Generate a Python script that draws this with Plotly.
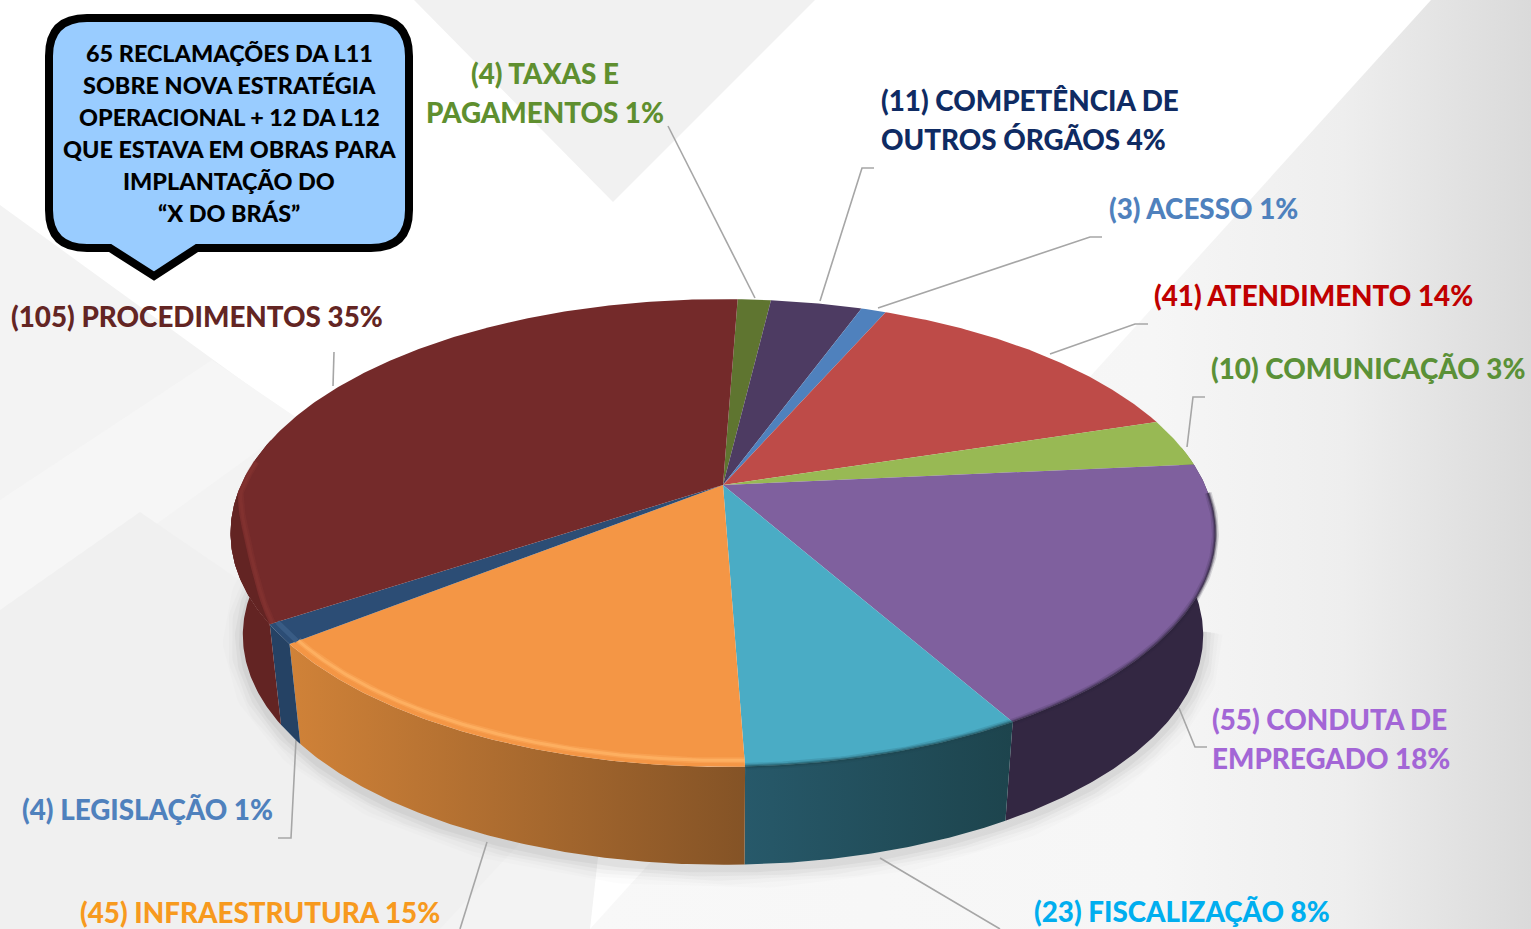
import numpy as np
import plotly.graph_objects as go

CATEGORIES = [["TAXAS E", "PAGAMENTOS"], ["COMPETÊNCIA DE", "OUTROS ÓRGÃOS"], ["ACESSO"], ["ATENDIMENTO"], ["COMUNICAÇÃO"],
              ["CONDUTA DE", "EMPREGADO"], ["FISCALIZAÇÃO"], ["INFRAESTRUTURA"], ["LEGISLAÇÃO"], ["PROCEDIMENTOS"]]
VALUES = [4, 11, 3, 41, 10, 55, 23, 45, 4, 105]
PERCENTS = [1, 4, 1, 14, 3, 18, 8, 15, 1, 35]
TOP_COLORS = ["#5F7530", "#4D3B62", "#4F81BD", "#BE4B48", "#98B954", "#7F609E", "#4AACC5", "#F49645", "#2C4D75", "#742A2A"]
SIDE_LEFT = ["#4c5e26", "#3e2f4f", "#3f6797", "#983c3a", "#7a9443", "#332742", "#27596A", "#D08238", "#254264", "#632423"]
SIDE_RIGHT = ["#4c5e26", "#3e2f4f", "#3f6797", "#983c3a", "#7a9443", "#332742", "#1D444D", "#845326", "#254264", "#632423"]
TEXT_COLORS = ["#5F8F2F", "#0F2B63", "#4F81BD", "#C00000", "#5B9137", "#A366D6", "#00AEEF", "#F79A1E", "#4F81BD", "#632523"]
LABEL_X = [545, 879, 1107, 1152, 1209, 1210, 1032, 78, 20, 9]
LABEL_Y = [73, 100, 208, 295, 368, 719, 911, 912, 809, 316]
LABEL_ANCHOR = ["center", "left", "left", "left", "left", "left", "left", "left", "left", "left"]
LEADERS = [[(668, 126), (755, 298)], [(874, 168), (862, 168), (820, 301)], [(1102, 237), (1090, 237), (878, 308)],
           [(1148, 324), (1135, 324), (1050, 354)], [(1205, 397), (1193, 397), (1187, 447)],
           [(1207, 747), (1195, 747), (1179, 708)], [(880, 858), (1000, 929)], [(487, 842), (460, 929)],
           [(296, 740), (291, 838), (278, 838)], [(334, 352), (333, 386)]]
NOTE = ["65 RECLAMAÇÕES DA L11", "SOBRE NOVA ESTRATÉGIA", "OPERACIONAL + 12 DA L12", "QUE ESTAVA EM OBRAS PARA",
        "IMPLANTAÇÃO DO", "“X DO BRÁS”"]
START_DEG = 2.1
FONT = "Lato"


def project(theta_deg, r=1.0, x0=723.0, y0=485.0, b=482.0, a=224.0, p=0.205):
    t = np.radians(theta_deg)
    u, v = r * np.sin(t), -r * np.cos(t)
    w = 1 - p * v
    return x0 + b * u / w, y0 + a * v / w


def top(theta, r=1.0):
    return project(theta, r)


def bottom(theta):
    return project(theta, 1.0, 723.0, 588.0, 470.0, 220.0)


def arc(a0, a1):
    return np.linspace(a0, a1, max(int(abs(a1 - a0) * 2), 3))


fig = go.Figure()


def poly(xs, ys, color=None, **kw):
    fig.add_trace(go.Scatter(x=list(xs), y=list(ys), mode="lines", fill="toself", fillcolor=color,
                             line=dict(width=0), hoverinfo="skip", showlegend=False, **kw))


def stroke(xs, ys, width, color):
    fig.add_trace(go.Scatter(x=xs, y=ys, mode="lines", line=dict(width=width, color=color),
                             hoverinfo="skip", showlegend=False))


# background
poly([414, 815, 613], [0, 0, 202], "#f1f1f1")
poly([1431, 1531, 1531, 590], [0, 0, 929, 929],
     fillgradient=dict(type="horizontal", colorscale=[[0, "#f8f8f8"], [0.6, "#f6f6f6"], [0.8, "#eeeeee"], [1, "#dadada"]]))
poly([0, 255, 620, 590, 0], [205, 390, 660, 929, 929], "#f3f3f3")
poly([0, 212, 300, 100, 0], [500, 360, 420, 565, 640], "#f6f6f6")
poly([0, 140, 560, 440, 0], [610, 512, 800, 929, 929], "#f0f0f0")

# soft shadow below the drum
th = arc(100, 275)
sx, sy = bottom(th)
for w, alpha in [(40, .012), (32, .016), (24, .022), (16, .03), (8, .04)]:
    stroke(sx, sy + 4, w, f"rgba(0,0,0,{alpha})")

# leader lines
for pts in LEADERS:
    stroke([q[0] for q in pts], [q[1] for q in pts], 1.6, "#a6a6a6")

edges = START_DEG + np.concatenate([[0], np.cumsum(VALUES)]) * 360.0 / sum(VALUES)
# side wall
for i in range(len(VALUES)):
    a0, a1 = max(edges[i], 80), min(edges[i + 1], 282)
    if a1 <= a0:
        continue
    th = arc(a0, a1)
    tx, ty = top(th)
    bx, by = bottom(th)
    poly(np.r_[tx, bx[::-1]], np.r_[ty, by[::-1]],
         fillgradient=dict(type="horizontal", colorscale=[[0, SIDE_LEFT[i]], [1, SIDE_RIGHT[i]]]))

# top surface
for i in range(len(VALUES)):
    th = arc(edges[i], edges[i + 1])
    x, y = top(th)
    x0, y0 = top(0.0, 0.0)
    poly(np.r_[x0, x], np.r_[y0, y], TOP_COLORS[i])

# the wall shows further in on the lower left
th = arc(edges[9], 268)
inset = 1 - 0.028 * np.sin(np.pi * (th - edges[9]) / (268 - edges[9]))
ox, oy = top(th)
ix, iy = top(th, inset)
poly(np.r_[ox, ix[::-1]], np.r_[oy, iy[::-1]], SIDE_LEFT[9])

# bevel along the front rim
for i, strokes, a_lo, a_hi, rad in [
    (5, [(7, "rgba(45,35,60,.16)"), (4, "rgba(45,35,60,.30)"), (2, "rgba(45,35,60,.45)")], 92, None, 1.0),
    (6, [(7, "rgba(29,70,80,.16)"), (4, "rgba(29,70,80,.30)"), (2, "rgba(29,70,80,.45)")], None, None, 1.0),
    (7, [(6, "rgba(255,181,102,.35)"), (3, "rgba(255,181,102,.7)")], None, None, 0.982),
    (8, [(5, "rgba(62,98,140,.7)")], None, None, 0.985),
]:
    a0 = edges[i] if a_lo is None else a_lo
    a1 = edges[i + 1] if a_hi is None else a_hi
    x, y = top(arc(a0, a1), rad)
    for w, c in strokes:
        stroke(x, y, w, c)
th = arc(edges[9], 276)
rad = np.where(th < 268, 1 - 0.028 * np.sin(np.pi * (th - edges[9]) / (268 - edges[9])), 1.0) - 0.006
x, y = top(th, rad)
stroke(x, y, 6, "rgba(134,52,49,.4)")
stroke(x, y, 3, "rgba(134,52,49,.6)")

ann = []
for lines, v, pc, col, x, y, anc in zip(CATEGORIES, VALUES, PERCENTS, TEXT_COLORS, LABEL_X, LABEL_Y, LABEL_ANCHOR):
    rows = list(lines)
    rows[0] = f"({v}) {rows[0]}"
    rows[-1] = f"{rows[-1]} {pc}%"
    for k, row in enumerate(rows):
        ann.append(dict(x=x, y=y + 39 * k, text=row, showarrow=False, xanchor=anc, yanchor="middle",
                        font=dict(family=FONT, size=27.8, color=col, weight=900)))
for k, row in enumerate(NOTE):
    ann.append(dict(x=229, y=53 + 32 * k, text=row, showarrow=False, xanchor="center", yanchor="middle",
                    font=dict(family=FONT, size=23.4, color="#000000", weight=900)))

callout = ("M 87 18 L 371 18 Q 409 18 409 56 L 409 210 Q 409 248 371 248 L 197 248 L 154 276 L 110 248 "
           "L 87 248 Q 49 248 49 210 L 49 56 Q 49 18 87 18 Z")
fig.update_layout(
    width=1531, height=929, autosize=False, margin=dict(l=0, r=0, t=0, b=0),
    paper_bgcolor="#ffffff", plot_bgcolor="#ffffff", showlegend=False,
    xaxis=dict(range=[0, 1531], visible=False, fixedrange=True),
    yaxis=dict(range=[929, 0], visible=False, fixedrange=True),
    annotations=ann,
    shapes=[dict(type="path", path=callout, fillcolor="#99CCFF", line=dict(color="#000000", width=8), layer="above")],
)
fig.write_html("out.html", config={"displayModeBar": False},
               post_script="document.body.style.margin='0';document.body.style.overflow='hidden';")
